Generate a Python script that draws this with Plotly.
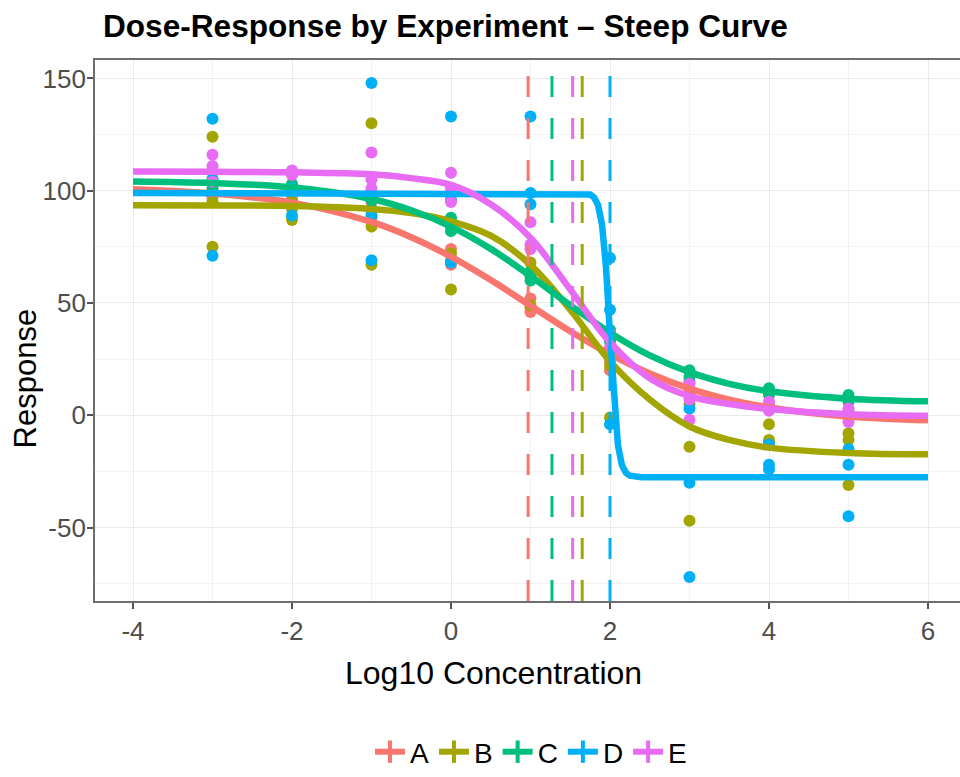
import plotly.graph_objects as go

# ---------------- data ----------------
experiments = ["A", "B", "C", "D", "E"]
colors = ["#F8766D", "#A3A500", "#00BF7D", "#00B0F6", "#E76BF3"]

doses = [-3, -2, -1, 0, 1, 2, 3, 4, 5]

# 3 replicate responses per dose
resp_A = [[100, 97, 104], [98, 101, 96], [95, 91, 88], [74, 69, 67], [52, 48, 46],
          [28, 24, 20], [12, 10, 9], [4, 3, 5], [2, 0, 1]]
resp_B = [[124, 75, 95], [87, 92, 95], [130, 84, 67], [86, 72, 56], [49, 62, 68],
          [-1, 30, 22], [-14, -47, 5], [-4, -11, -12], [-8, -11, -31]]
resp_C = [[103, 105, 101], [100, 102, 103], [96, 92, 98], [84, 82, 88], [62, 60, 64],
          [36, 33, 38], [20, 17, 15], [12, 9, 10], [9, 7, 6]]
resp_D = [[132, 71, 105], [89, 100, 101], [148, 89, 69], [133, 68, 96], [133, 94, 99],
          [70, 47, -4], [3, -30, -72], [-13, -22, -24], [-15, -22, -45]]
resp_E = [[116, 111, 104], [108, 107, 109], [117, 105, 101], [108, 95, 101], [86, 76, 74],
          [36, 30, 26], [14, 7, -2], [6, 3, 2], [3, 0, -3]]

# fitted curves
curve_x = [-4, -3, -2, -1, -0.5, 0, 0.5, 1, 1.5, 2, 2.5, 3, 3.5, 4, 5, 6]
curve_A = [100.7, 98.8, 94.7, 86.1, 79.3, 70.6, 60.2, 48.8, 37.4, 27.2, 18.6, 11.9, 7.0, 3.5, -0.5, -2.2]
curve_B = [93.5, 93.4, 93.2, 91.9, 90.1, 86.4, 80.0, 67.0, 47.0, 24.0, 7.0, -5.0, -11.0, -14.4, -16.8, -17.4]
curve_C = [104.1, 103.4, 101.5, 96.3, 91.3, 84.0, 74.1, 62.0, 49.0, 36.8, 26.7, 19.2, 14.0, 10.7, 7.4, 6.2]
curve_E = [108.5, 108.4, 108.2, 107.3, 105.6, 102.6, 94.0, 79.0, 56.0, 32.5, 16.5, 8.5, 5.0, 2.8, 0.5, -0.2]
curve_D_x = [-4, 1.5, 1.7, 1.75, 1.8, 1.85, 1.9, 1.95, 2.0, 2.05, 2.1, 2.15, 2.2, 2.25, 2.3, 2.4, 2.6, 6]
curve_D = [99, 99, 98.7, 98.3, 97.0, 93.6, 84.8, 65.8, 35.7, 5.6, -13.4, -22.2, -25.6, -26.9, -27.35, -27.57, -27.6, -27.6]

ec50 = [0.97, 1.65, 1.27, 2.0, 1.53]

x_ticks = [-4, -2, 0, 2, 4, 6]
x_ticktext = ["-4", "-2", "0", "2", "4", "6"]
y_ticks = [-50, 0, 50, 100, 150]
y_ticktext = ["-50", "0", "50", "100", "150"]

title_text = "Dose-Response by Experiment – Steep Curve"
x_title = "Log10 Concentration"
y_title = "Response"

# ---------------- figure ----------------
responses = [resp_A, resp_B, resp_C, resp_D, resp_E]
curves = [(curve_x, curve_A), (curve_x, curve_B), (curve_x, curve_C), (curve_D_x, curve_D), (curve_x, curve_E)]

SANS = "Liberation Sans, Arial, Helvetica, sans-serif"

fig = go.Figure()

# points
for name, col, resp in zip(experiments, colors, responses):
    xs, ys = [], []
    for d, reps in zip(doses, resp):
        for r in reps:
            xs.append(d)
            ys.append(r)
    fig.add_trace(go.Scatter(x=xs, y=ys, mode="markers", legendgroup=name, showlegend=False,
                             marker=dict(color=col, size=12, line=dict(width=0)),
                             hoverinfo="x+y"))

# curves
for name, col, (cx, cy) in zip(experiments, colors, curves):
    fig.add_trace(go.Scatter(x=cx, y=cy, mode="lines", legendgroup=name, showlegend=False,
                             line=dict(color=col, width=6.5,
                                       shape="linear" if name == "D" else "spline")))

# legend entries
for name, col in zip(experiments, colors):
    fig.add_trace(go.Scatter(x=[None], y=[None], mode="lines+markers", name=name, legendgroup=name,
                             line=dict(color=col, width=6),
                             marker=dict(symbol="line-ns", size=18, color=col,
                                         line=dict(width=4, color=col))))

# EC50 vertical dashed lines
for name, col, e in zip(experiments, colors, ec50):
    fig.add_shape(type="line", xref="x", yref="paper", x0=e, x1=e, y0=0, y1=1,
                  line=dict(color=col, width=3, dash="21px,21px"), layer="above")

fig.update_layout(
    width=960, height=777,
    margin=dict(l=95, r=0, t=60, b=175),
    paper_bgcolor="white", plot_bgcolor="white",
    title=dict(text="<b>" + title_text + "</b>", x=103 / 960, xref="container", xanchor="left",
               y=1 - 26 / 777, yref="container", yanchor="middle",
               font=dict(family=SANS, size=31.6, color="black")),
    legend=dict(orientation="h", x=0.504, xanchor="center", y=-0.2786, yanchor="middle",
                font=dict(family=SANS, size=28, color="black"),
                itemwidth=30, tracegroupgap=0),
    showlegend=True,
)

fig.update_xaxes(
    range=[-4.478, 6.4025], tickvals=x_ticks, ticktext=x_ticktext,
    showgrid=True, gridcolor="#EBEBEB", gridwidth=1.2,
    minor=dict(tickvals=[-3, -1, 1, 3, 5], showgrid=True, gridcolor="#F3F3F3", gridwidth=1, ticklen=0),
    showline=True, linecolor="#6E6E6E", linewidth=1.8, mirror=True,
    ticks="outside", ticklen=6, tickwidth=1.5, tickcolor="#555555",
    tickfont=dict(family=SANS, size=26, color="#4D4D4D"),
    zeroline=False,
)
fig.update_yaxes(
    range=[-82.7, 158.2], tickvals=y_ticks, ticktext=y_ticktext,
    showgrid=True, gridcolor="#EBEBEB", gridwidth=1.2,
    minor=dict(tickvals=[-75, -25, 25, 75, 125], showgrid=True, gridcolor="#F3F3F3", gridwidth=1, ticklen=0),
    showline=True, linecolor="#6E6E6E", linewidth=1.8, mirror=False,
    ticks="outside", ticklen=6, tickwidth=1.5, tickcolor="#555555",
    tickfont=dict(family=SANS, size=26, color="#4D4D4D"),
    ticklabelstandoff=-4,
    zeroline=False,
)

fig.add_annotation(text=x_title, xref="paper", yref="paper", x=(493 - 95) / 865, y=(602 - 674) / 542,
                   xanchor="center", yanchor="middle", showarrow=False,
                   font=dict(family=SANS, size=32, color="black"))
fig.add_annotation(text=y_title, xref="paper", yref="paper", x=(25 - 95) / 865, y=(602 - 379) / 542,
                   xanchor="center", yanchor="middle", showarrow=False, textangle=-90,
                   font=dict(family=SANS, size=31, color="black"))

fig.write_html("out.html")
